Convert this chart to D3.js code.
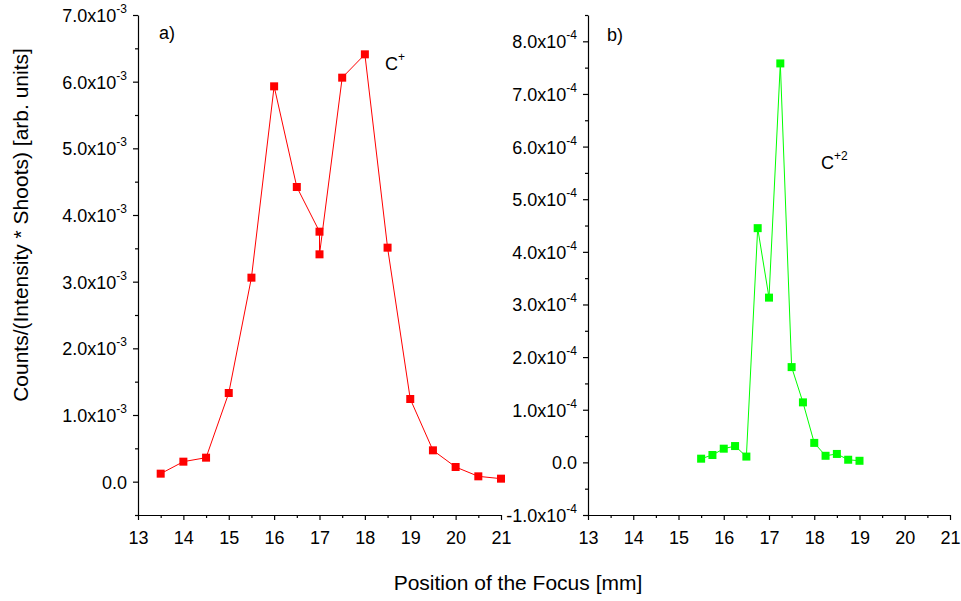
<!DOCTYPE html>
<html>
<head>
<meta charset="utf-8">
<script src="https://cdn.jsdelivr.net/npm/d3@7"></script>
<style>
  body { margin: 0; background: #fff; }
  svg { font-family: "Liberation Sans", Arial, sans-serif; }
</style>
</head>
<body>
<div id="chart"></div>
<script>
// data
var xTicks = [13, 14, 15, 16, 17, 18, 19, 20, 21];

// a) C+
var cPlusX = [13.5, 14, 14.5, 15, 15.5, 16, 16.5, 17, 17, 17.5, 18, 18.5, 19, 19.5, 20, 20.5, 21];
var cPlusY = [0.12e-3, 0.30e-3, 0.36e-3, 1.33e-3, 3.06e-3, 5.93e-3, 4.42e-3, 3.75e-3, 3.41e-3,
              6.06e-3, 6.41e-3, 3.51e-3, 1.24e-3, 0.47e-3, 0.22e-3, 0.08e-3, 0.045e-3];
var leftYTicks = [0, 1e-3, 2e-3, 3e-3, 4e-3, 5e-3, 6e-3, 7e-3];
var leftYLabels = ["0.0", "1.0x10|-3", "2.0x10|-3", "3.0x10|-3", "4.0x10|-3", "5.0x10|-3", "6.0x10|-3", "7.0x10|-3"];

// b) C+2
var c2X = [15.5, 15.75, 16, 16.25, 16.5, 16.75, 17, 17.25, 17.5, 17.75, 18, 18.25, 18.5, 18.75, 19];
var c2Y = [0.07e-4, 0.14e-4, 0.26e-4, 0.31e-4, 0.11e-4, 4.45e-4, 3.13e-4, 7.58e-4,
           1.81e-4, 1.14e-4, 0.37e-4, 0.125e-4, 0.16e-4, 0.05e-4, 0.03e-4];
var rightYTicks = [-1e-4, 0, 1e-4, 2e-4, 3e-4, 4e-4, 5e-4, 6e-4, 7e-4, 8e-4];
var rightYLabels = ["-1.0x10|-4", "0.0", "1.0x10|-4", "2.0x10|-4", "3.0x10|-4", "4.0x10|-4",
                    "5.0x10|-4", "6.0x10|-4", "7.0x10|-4", "8.0x10|-4"];

var width = 961, height = 601;

var svg = d3.select("#chart").append("svg")
  .attr("width", width)
  .attr("height", height);

function halfSteps(a, b, step) {
  var out = [];
  for (var v = a; v <= b + step / 10; v += step) out.push(+v.toFixed(8));
  return out;
}

function panel(opt) {
  var x = d3.scaleLinear().domain([13, 21]).range([opt.left, opt.right]);
  var y = d3.scaleLinear().domain(opt.yDomain).range([515, 15]);

  // minor ticks
  svg.append("g")
    .attr("transform", "translate(0,515)")
    .call(d3.axisBottom(x).tickValues(halfSteps(13.5, 20.5, 1)).tickSize(3).tickFormat(""))
    .call(function(g) { g.select(".domain").remove(); });
  svg.append("g")
    .attr("transform", "translate(" + opt.left + ",0)")
    .call(d3.axisLeft(y).tickValues(opt.minor).tickSize(3).tickFormat(""))
    .call(function(g) { g.select(".domain").remove(); });

  // major axes
  var gx = svg.append("g")
    .attr("transform", "translate(0,515)")
    .call(d3.axisBottom(x).tickValues(xTicks).tickSize(5).tickSizeOuter(0).tickPadding(8));
  gx.selectAll("text").attr("font-size", 18).attr("dy", "0.9em");

  var gy = svg.append("g")
    .attr("transform", "translate(" + opt.left + ",0)")
    .call(d3.axisLeft(y).tickValues(opt.yTicks).tickSize(5).tickSizeOuter(0).tickPadding(6)
      .tickFormat(function(d, i) { return opt.yLabels[i]; }));

  gy.selectAll("text").each(function() {
    var t = d3.select(this);
    var parts = t.text().split("|");
    t.text(null).attr("font-size", 18).attr("dy", "0.36em");
    t.append("tspan").text(parts[0]);
    if (parts[1]) {
      t.append("tspan").attr("font-size", 12).attr("dy", "-0.75em").text(parts[1]);
    }
  });

  svg.selectAll(".domain, .tick line").attr("stroke", "#000").attr("stroke-width", 1.2);
  svg.selectAll(".tick text").attr("fill", "#000");

  var line = d3.line()
    .x(function(d) { return x(d[0]); })
    .y(function(d) { return y(d[1]); });

  var pts = d3.zip(opt.xs, opt.ys);

  svg.append("path")
    .datum(pts)
    .attr("d", line)
    .attr("fill", "none")
    .attr("stroke", opt.color)
    .attr("stroke-width", 1);

  svg.append("g").selectAll("rect")
    .data(pts)
    .enter().append("rect")
    .attr("x", function(d) { return x(d[0]) - 4; })
    .attr("y", function(d) { return y(d[1]) - 4; })
    .attr("width", 8)
    .attr("height", 8)
    .attr("fill", opt.color);
}

panel({
  left: 138, right: 501,
  yDomain: [-0.5e-3, 7e-3],
  yTicks: leftYTicks, yLabels: leftYLabels,
  minor: halfSteps(-0.5e-3, 6.5e-3, 1e-3),
  xs: cPlusX, ys: cPlusY, color: "#ff0000"
});

panel({
  left: 588, right: 950,
  yDomain: [-1e-4, 8.5e-4],
  yTicks: rightYTicks, yLabels: rightYLabels,
  minor: halfSteps(-0.5e-4, 8.5e-4, 1e-4),
  xs: c2X, ys: c2Y, color: "#00ff00"
});

// panel labels
svg.append("text").attr("x", 159).attr("y", 39).attr("font-size", 18).text("a)");
svg.append("text").attr("x", 607).attr("y", 41).attr("font-size", 18).text("b)");

var cp = svg.append("text").attr("x", 385).attr("y", 70).attr("font-size", 18);
cp.append("tspan").text("C");
cp.append("tspan").attr("font-size", 12).attr("dy", "-0.75em").text("+");

var c2 = svg.append("text").attr("x", 821).attr("y", 169).attr("font-size", 18);
c2.append("tspan").text("C");
c2.append("tspan").attr("font-size", 12).attr("dy", "-0.75em").text("+2");

// axis titles
svg.append("text")
  .attr("x", 518).attr("y", 590)
  .attr("text-anchor", "middle")
  .attr("font-size", 21)
  .text("Position of the Focus [mm]");

svg.append("text")
  .attr("transform", "translate(28,225) rotate(-90)")
  .attr("text-anchor", "middle")
  .attr("font-size", 21)
  .text("Counts/(Intensity * Shoots) [arb. units]");
</script>
</body>
</html>
